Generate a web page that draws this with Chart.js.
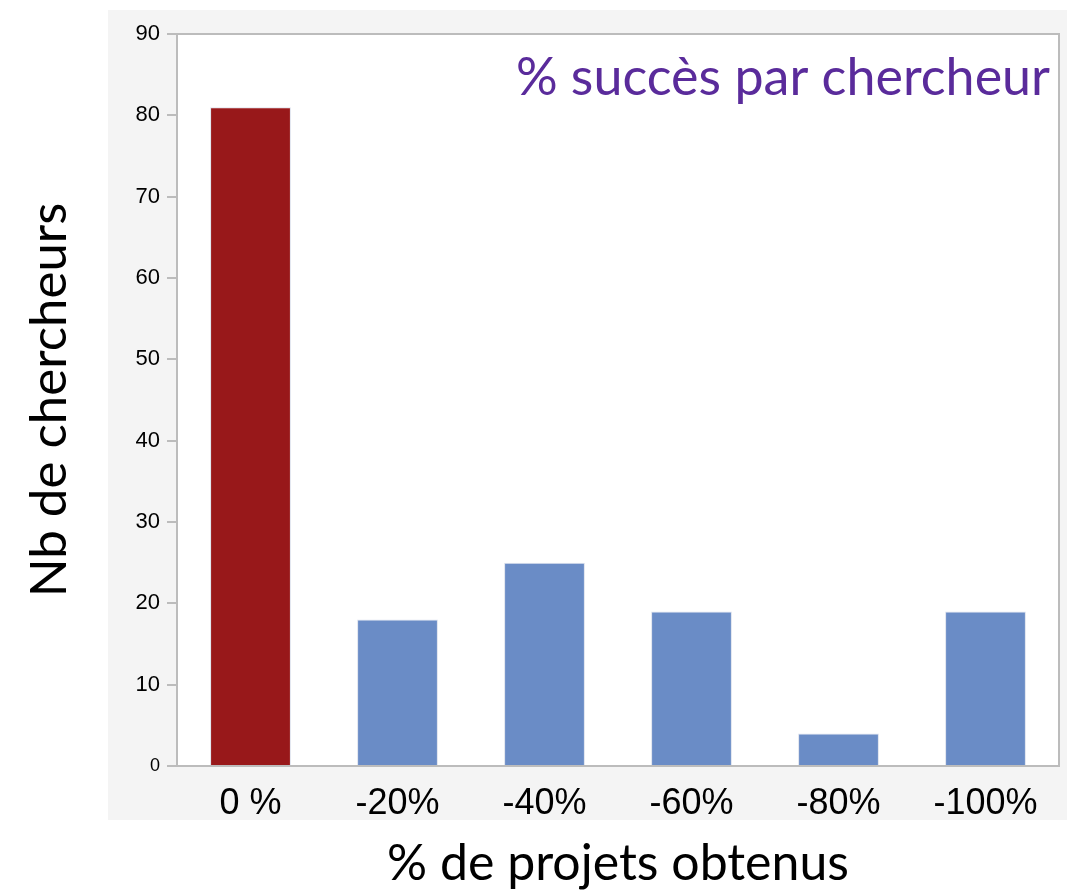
<!DOCTYPE html>
<html>
<head>
<meta charset="utf-8">
<script src="https://cdn.jsdelivr.net/npm/chart.js@4/dist/chart.umd.min.js"></script>
<style>
  html, body { margin: 0; padding: 0; background: #fff; }
  #wrap { width: 1067px; height: 894px; }
</style>
</head>
<body>
<div id="wrap"><canvas id="graphique" width="1067" height="894"></canvas></div>
<script>
const categories = ['0 %', '-20%', '-40%', '-60%', '-80%', '-100%'];
const valeurs = [81, 18, 25, 19, 4, 19];
const couleurs = ['#98181a', '#6a8cc6', '#6a8cc6', '#6a8cc6', '#6a8cc6', '#6a8cc6'];
const ticksY = [0, 10, 20, 30, 40, 50, 60, 70, 80, 90];

const titre = '% succès par chercheur';
const policeTitres = 'Lato, "Open Sans", sans-serif';
const policeTicks = '"Liberation Sans", Arial, sans-serif';

// fond gris, zone blanche et cadre
const fondPlugin = {
  id: 'fond',
  beforeDraw(chart) {
    const { ctx, chartArea: a } = chart;
    ctx.save();
    ctx.fillStyle = '#f4f4f4';
    ctx.fillRect(108, 10, 1067 - 108, 820 - 10);
    ctx.fillStyle = '#ffffff';
    ctx.fillRect(a.left, a.top, a.right - a.left, a.bottom - a.top);
    ctx.restore();
  },
  afterDraw(chart) {
    const { ctx, chartArea: a } = chart;
    ctx.save();
    ctx.strokeStyle = '#bcbcbc';
    ctx.lineWidth = 2;
    ctx.strokeRect(a.left, a.top, a.right - a.left, a.bottom - a.top);
    ctx.fillStyle = '#5a2b9b';
    ctx.font = '52px ' + policeTitres;
    ctx.textAlign = 'right';
    ctx.textBaseline = 'middle';
    ctx.fillText(titre, a.right - 9, 78);
    ctx.restore();
  }
};

const ctx = document.getElementById('graphique').getContext('2d');

const grafico = new Chart(ctx, {
  type: 'bar',
  data: {
    labels: categories,
    datasets: [{
      label: 'Nb de chercheurs',
      data: valeurs,
      backgroundColor: couleurs,
      borderColor: '#dfe3ee',
      borderWidth: 1,
      barPercentage: 0.55,
      categoryPercentage: 1
    }]
  },
  options: {
    responsive: false,
    animation: false,
    layout: { padding: { top: 34, right: 8, left: 0, bottom: 0 } },
    plugins: { legend: { display: false }, tooltip: { enabled: false } },
    scales: {
      y: {
        min: 0,
        max: 90,
        afterBuildTicks(scale) {
          scale.ticks = ticksY.map(v => ({ value: v }));
        },
        afterFit(scale) { scale.width = 177; },
        border: { display: true, color: '#bcbcbc', width: 2 },
        grid: { drawOnChartArea: false, drawTicks: true, tickLength: 10, color: '#bcbcbc', lineWidth: 2 },
        ticks: {
          color: '#000',
          padding: 7,
          font: {
            family: policeTicks,
            size: c => (c.tick && c.tick.value === 0 ? 18 : 22)
          }
        },
        title: {
          display: true,
          text: 'Nb de chercheurs',
          color: '#000',
          font: { family: policeTitres, size: 51 },
          padding: { top: 19, bottom: 0 }
        }
      },
      x: {
        afterFit(scale) { scale.height = 894 - 766; },
        border: { display: true, color: '#bcbcbc', width: 2 },
        grid: { display: false },
        ticks: {
          color: '#000',
          padding: 8,
          font: { family: policeTicks, size: 36 }
        },
        title: {
          display: true,
          text: '% de projets obtenus',
          color: '#000',
          font: { family: policeTitres, size: 50 },
          padding: { top: 0, bottom: 0 }
        }
      }
    }
  },
  plugins: [fondPlugin]
});
</script>
</body>
</html>
